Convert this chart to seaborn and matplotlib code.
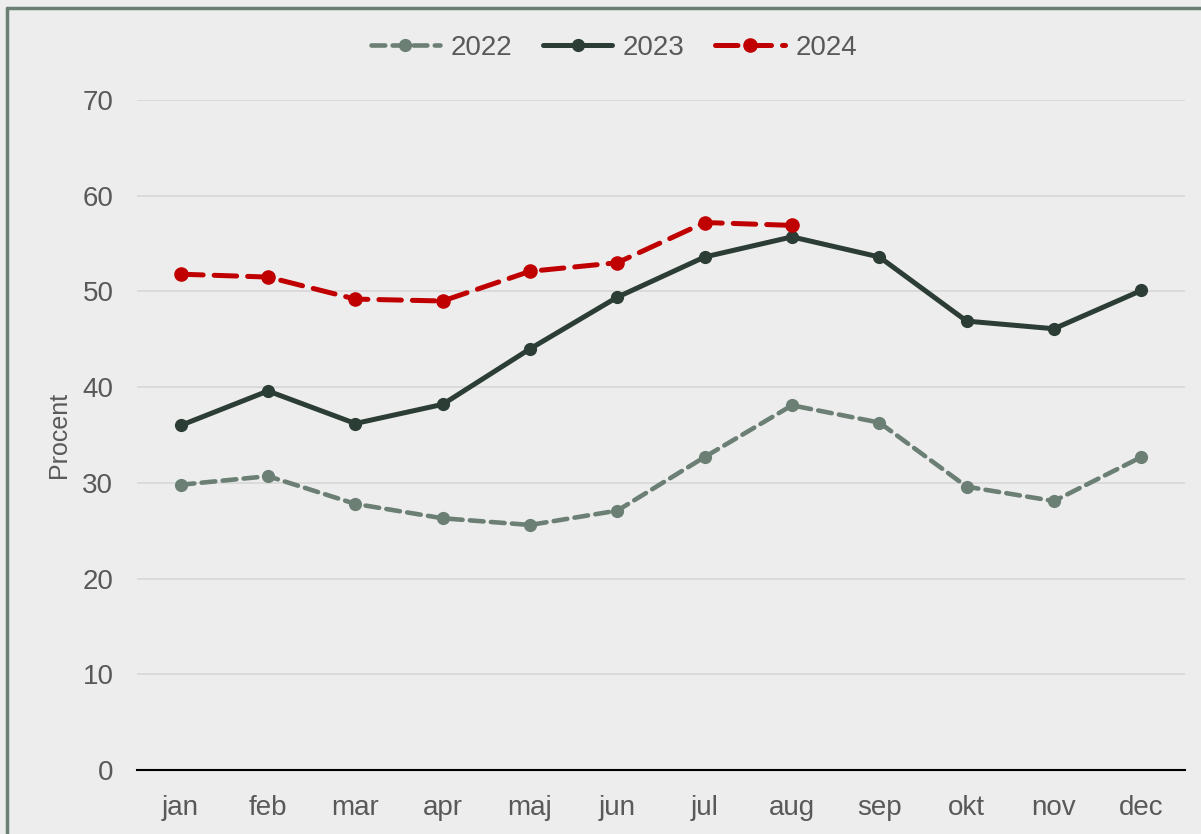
import numpy as np
import pandas as pd
import matplotlib
matplotlib.use('Agg')
import matplotlib.pyplot as plt
import seaborn as sns
from matplotlib.lines import Line2D

months = ['jan', 'feb', 'mar', 'apr', 'maj', 'jun', 'jul', 'aug', 'sep', 'okt', 'nov', 'dec']
v2022 = [29.8, 30.7, 27.8, 26.3, 25.6, 27.1, 32.7, 38.1, 36.3, 29.6, 28.1, 32.7]
v2023 = [36.0, 39.6, 36.2, 38.2, 44.0, 49.4, 53.6, 55.7, 53.6, 46.9, 46.1, 50.1]
v2024 = [51.8, 51.5, 49.2, 49.0, 52.1, 53.0, 57.2, 56.9]
years = ['2022', '2023', '2024']
colors = {'2022': '#6b7f74', '2023': '#2b3d35', '2024': '#c00000'}

rows = []
for yr, vals in zip(years, [v2022, v2023, v2024]):
    for m, v in zip(months, vals):
        rows.append([yr, m, v])
df = pd.DataFrame(rows, columns=['Year', 'Month', 'Value'])
df['Month'] = pd.Categorical(df['Month'], categories=months, ordered=True)
df['x'] = df['Month'].cat.codes

sns.set_style('white')
plt.rcParams['font.family'] = ['Liberation Sans', 'DejaVu Sans']
bg = '#ededed'
fig = plt.figure(figsize=(12.01, 8.34), dpi=100, facecolor=bg)
ax = fig.add_axes([137/1201, 1-770/834, (1185-137)/1201, 670/834])
ax.set_facecolor(bg)

styles = {'2022': (3.3, (3, 1.6), 9.5), '2023': (3.6, '', 9.5), '2024': (3.6, (4.5, 2.2), 10.5)}
for yr in years:
    d = df[df['Year'] == yr]
    lw, dash, ms = styles[yr]
    sns.lineplot(data=d, x='x', y='Value', ax=ax, color=colors[yr], linewidth=lw,
                 marker='o', markersize=ms, markeredgewidth=0,
                 dashes=False, label=yr)
    ln = ax.get_lines()[-1]
    if dash:
        ln.set_dashes(dash)
        ln.set_dash_capstyle('round')

ax.set_xlim(-0.5, 11.5)
ax.set_ylim(0, 70)
ax.set_yticks(range(0, 71, 10))
ax.set_xticks(range(12))
ax.set_xticklabels(months)
ax.yaxis.grid(True, color='#d9d9d9', linewidth=1.3)
ax.set_axisbelow(True)
for s in ['top', 'right', 'left']:
    ax.spines[s].set_visible(False)
ax.spines['bottom'].set_color('black')
ax.spines['bottom'].set_linewidth(1.5)
ax.tick_params(axis='both', length=0, labelsize=20, colors='#595959')
ax.tick_params(axis='y', pad=17)
ax.tick_params(axis='x', pad=18)
ax.set_xlabel('')
ax.set_ylabel('Procent', fontsize=18, color='#595959', labelpad=8)

ax.legend(loc='upper center', bbox_to_anchor=(0.455, 1.135), ncol=3, frameon=False,
          fontsize=20, labelcolor='#595959', handlelength=2.5, columnspacing=1.1,
          handletextpad=0.38)

fig.add_artist(Line2D([7/1201, 1], [1-8/834, 1-8/834], color='#6a8074', linewidth=2.5,
                      transform=fig.transFigure))
fig.add_artist(Line2D([7/1201, 7/1201], [0, 1-8/834], color='#6a8074', linewidth=2.5,
                      transform=fig.transFigure))

fig.savefig('out.png', dpi=100, facecolor=bg)
